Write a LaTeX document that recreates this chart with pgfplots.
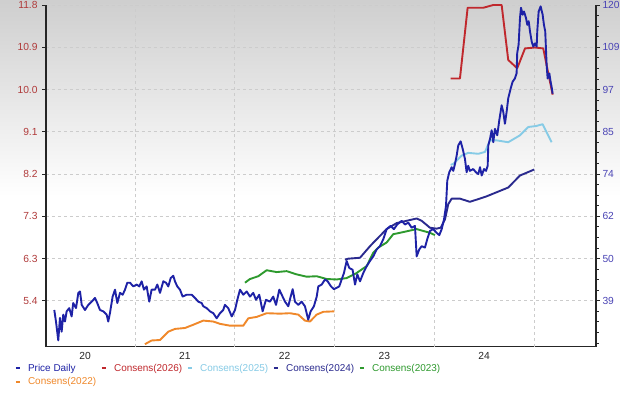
\documentclass[border=0pt]{standalone}
\usepackage{pgfplots}
\pgfplotsset{compat=1.18}
\usepackage{fontspec}
\setmainfont{Liberation Sans}
\definecolor{leftred}{HTML}{B03A3A}
\definecolor{rightblue}{HTML}{4A44B5}
\definecolor{pricec}{HTML}{1E22A6}
\definecolor{c26}{HTML}{C0282D}
\definecolor{c25}{HTML}{86CBE6}
\definecolor{c24}{HTML}{2A2A8E}
\definecolor{c23}{HTML}{2E9A2E}
\definecolor{c22}{HTML}{F0882A}
\definecolor{gridc}{HTML}{CCCCCC}

\pgfplotstableread{
x y
2020.191 5.20
2020.208 4.95
2020.231 4.54
2020.248 5.03
2020.265 4.73
2020.281 5.10
2020.298 4.95
2020.315 5.17
2020.341 5.24
2020.365 5.06
2020.381 5.35
2020.409 5.24
2020.432 5.57
2020.449 5.60
2020.466 5.31
2020.499 5.20
2020.532 5.31
2020.566 5.38
2020.599 5.46
2020.622 5.35
2020.649 5.20
2020.682 5.17
2020.716 5.10
2020.732 4.95
2020.749 5.13
2020.776 5.49
2020.800 5.64
2020.823 5.35
2020.850 5.57
2020.877 5.53
2020.900 5.64
2020.923 5.79
2020.950 5.79
2020.983 5.71
2021.017 5.75
2021.043 5.71
2021.067 5.82
2021.090 5.64
2021.117 5.71
2021.143 5.38
2021.167 5.64
2021.201 5.64
2021.224 5.75
2021.251 5.57
2021.284 5.82
2021.311 5.79
2021.334 5.71
2021.358 5.89
2021.384 5.94
2021.401 5.82
2021.424 5.71
2021.451 5.64
2021.478 5.49
2021.518 5.53
2021.568 5.53
2021.602 5.46
2021.635 5.38
2021.669 5.35
2021.685 5.28
2021.719 5.24
2021.752 5.17
2021.785 5.13
2021.819 5.02
2021.852 5.13
2021.885 5.20
2021.902 5.31
2021.935 5.24
2021.970 5.06
2022.003 5.20
2022.026 5.42
2022.053 5.64
2022.086 5.53
2022.120 5.60
2022.153 5.49
2022.186 5.57
2022.213 5.42
2022.246 5.53
2022.280 5.17
2022.313 5.42
2022.353 5.38
2022.386 5.49
2022.414 5.31
2022.447 5.64
2022.471 5.53
2022.504 5.38
2022.537 5.28
2022.561 5.49
2022.581 5.65
2022.604 5.38
2022.637 5.31
2022.671 5.38
2022.704 5.28
2022.737 4.99
2022.761 5.17
2022.794 5.28
2022.822 5.49
2022.838 5.71
2022.872 5.75
2022.905 5.86
2022.932 5.82
2022.965 5.71
2022.995 5.65
2023.022 5.68
2023.048 5.71
2023.072 5.86
2023.095 6.00
2023.122 6.26
2023.148 6.11
2023.182 6.07
2023.206 5.75
2023.229 5.97
2023.256 5.82
2023.289 6.00
2023.323 6.15
2023.356 6.26
2023.389 6.36
2023.423 6.51
2023.456 6.58
2023.489 6.73
2023.523 6.95
2023.563 7.02
2023.596 6.95
2023.629 7.05
2023.674 7.13
2023.707 7.05
2023.740 7.09
2023.774 6.98
2023.807 7.02
2023.824 6.36
2023.850 6.51
2023.874 6.58
2023.907 6.55
2023.930 6.73
2023.957 6.91
2023.990 6.95
2024.024 6.87
2024.051 6.82
2024.075 6.95
2024.098 7.16
2024.118 7.45
2024.131 8.00
2024.151 8.18
2024.175 8.29
2024.191 8.21
2024.208 8.36
2024.225 8.54
2024.241 8.76
2024.265 8.85
2024.285 8.69
2024.308 8.47
2024.325 8.18
2024.341 8.32
2024.358 8.21
2024.391 8.25
2024.418 8.18
2024.442 8.14
2024.459 8.29
2024.476 8.11
2024.499 8.25
2024.519 8.21
2024.536 8.32
2024.542 8.76
2024.559 8.90
2024.576 9.09
2024.592 8.83
2024.609 9.12
2024.632 8.98
2024.652 9.30
2024.676 9.63
2024.692 9.49
2024.709 9.23
2024.726 9.49
2024.742 9.78
2024.766 9.99
2024.786 10.14
2024.809 10.21
2024.826 10.32
2024.832 10.76
2024.846 10.94
2024.860 11.52
2024.870 11.74
2024.887 11.59
2024.900 11.66
2024.920 11.52
2024.933 11.37
2024.947 11.45
2024.960 11.23
2024.977 11.01
2024.993 10.90
2025.010 10.97
2025.027 10.90
2025.033 11.23
2025.047 11.66
2025.067 11.77
2025.087 11.59
2025.100 11.37
2025.113 11.23
2025.120 10.86
2025.127 10.50
2025.137 10.21
2025.154 10.32
2025.167 10.14
2025.180 9.99
2025.187 9.88
}\pricedata

\pgfplotstableread{
x y
2024.165 10.21
2024.258 10.21
2024.335 11.74
2024.492 11.74
2024.592 11.80
2024.676 11.80
2024.742 10.61
2024.832 10.43
2024.910 10.86
2025.010 10.88
2025.093 10.86
2025.187 9.86
}\consF

\pgfplotstableread{
x y
2024.165 8.34
2024.191 8.36
2024.274 8.54
2024.341 8.60
2024.442 8.58
2024.509 8.62
2024.559 8.87
2024.626 8.87
2024.742 8.83
2024.860 8.98
2024.943 9.16
2025.020 9.18
2025.087 9.22
2025.177 8.83
}\consE

\pgfplotstableread{
x y
2023.105 6.29
2023.138 6.31
2023.256 6.33
2023.356 6.58
2023.423 6.73
2023.523 6.95
2023.623 7.08
2023.724 7.13
2023.824 7.18
2023.874 7.13
2023.957 6.98
2024.024 6.96
2024.065 6.98
2024.108 7.16
2024.141 7.49
2024.175 7.61
2024.258 7.61
2024.358 7.54
2024.526 7.66
2024.742 7.85
2024.860 8.11
2025.003 8.24
}\consD

\pgfplotstableread{
x y
2022.103 5.79
2022.153 5.87
2022.236 5.93
2022.320 6.06
2022.420 6.02
2022.521 6.04
2022.621 5.97
2022.721 5.92
2022.822 5.93
2022.922 5.87
2023.022 5.86
2023.122 5.89
2023.222 6.00
2023.323 6.15
2023.389 6.44
2023.439 6.55
2023.523 6.66
2023.589 6.84
2023.657 6.87
2023.740 6.91
2023.824 6.95
2023.890 6.91
2023.957 6.87
2024.007 6.82
}\consC

\pgfplotstableread{
x y
2021.100 4.46
2021.167 4.54
2021.251 4.55
2021.334 4.73
2021.401 4.79
2021.501 4.81
2021.584 4.88
2021.685 4.97
2021.785 4.95
2021.852 4.90
2021.952 4.86
2022.086 4.86
2022.136 5.02
2022.220 5.05
2022.320 5.13
2022.454 5.12
2022.554 5.13
2022.637 5.10
2022.704 4.97
2022.754 4.95
2022.822 5.10
2022.888 5.16
2022.998 5.17
}\consB

\begin{document}
\begin{tikzpicture}[x=1bp,y=1bp]
\useasboundingbox (0,0) rectangle (620,392);
\shade[top color=black!19, bottom color=white] (0,195) rectangle (620,392);
\fill[white] (0,0) rectangle (620,195);
\pgfplotsset{
  common/.style={
    scale only axis, width=550bp, height=341.7bp,
    at={(46bp,45.3bp)}, anchor=south west,
    xmin=2020.108, xmax=2025.622, ymin=4.405, ymax=11.8,
    ytick={5.4,6.3143,7.2286,8.1429,9.0571,9.9714,10.8857,11.8},
    tick align=outside, major tick length=4bp, minor tick length=3bp,
    axis line style={-, black!85, line width=1.4pt},
    tick style={black!85, line width=0.8pt},
  }
}
\begin{axis}[common,
  axis x line*=bottom, axis y line*=left,
  yticklabels={5.4,6.3,7.3,8.2,9.1,10.0,10.9,11.8},
  y tick label style={font=\fontsize{10.3}{12}\selectfont, color=leftred, xshift=-1bp},
  xtick={2020.5,2021.5,2022.5,2023.5,2024.5},
  xticklabels={20,21,22,23,24},
  x tick label style={font=\fontsize{10.3}{12}\selectfont, color=black!85, yshift=1.5bp},
  major x tick style={draw=none},
  extra x ticks={2021,2022,2023,2024,2025},
  extra x tick labels={},
  extra x tick style={grid=major, major tick length=0pt},
  ymajorgrids,
  grid style={dashed, gridc, line width=0.5pt},
  clip=false,
  legend columns=5,
  legend style={draw=none, fill=none, inner sep=0pt, outer sep=0pt,
    at={(-0.0570,-0.050)}, anchor=north west,
    font=\fontsize{10}{12}\selectfont,
    nodes={inner sep=0pt},
    row sep=5bp,
    /tikz/every odd column/.append style={column sep=6.5bp},
    /tikz/every even column/.append style={column sep=4.5bp}},
  legend cell align=left,
  legend image code/.code={\draw[line width=2.4bp] (0bp,0bp) -- (4.5bp,0bp);},
]
\addlegendimage{pricec}
\addlegendentry{\textcolor{pricec}{Price Daily}}
\addlegendimage{c26}
\addlegendentry{\textcolor{c26}{Consens(2026)}}
\addlegendimage{c25}
\addlegendentry{\textcolor{c25}{Consens(2025)}}
\addlegendimage{c24}
\addlegendentry{\textcolor{c24}{Consens(2024)}}
\addlegendimage{c23}
\addlegendentry{\textcolor{c23}{Consens(2023)}}
\addlegendimage{c22}
\addlegendentry{\textcolor{c22}{Consens(2022)}}

\addplot[forget plot, c22, line width=1.9pt, line join=round] table {\consB};
\addplot[forget plot, c23, line width=1.9pt, line join=round] table {\consC};
\addplot[forget plot, c24, line width=1.9pt, line join=round] table {\consD};
\addplot[forget plot, c25, line width=1.9pt, line join=round] table {\consE};
\addplot[forget plot, c26, line width=1.9pt, line join=round] table {\consF};
\addplot[forget plot, pricec, line width=1.9pt, line join=round] table {\pricedata};
\end{axis}
\begin{axis}[common,
  axis x line=none, axis y line*=right,
  yticklabels={39,50,62,74,85,97,109,120},
  y tick label style={font=\fontsize{10.3}{12}\selectfont, color=rightblue, xshift=-1bp},
  minor ytick={4.4857,4.7143,4.9429,5.1714,5.6286,5.8571,6.0857,6.5429,6.7714,7.0,7.4571,7.6857,7.9143,8.3714,8.6,8.8286,9.2857,9.5143,9.7429,10.2,10.4286,10.6571,11.1143,11.3429,11.5714},
]
\end{axis}
\end{tikzpicture}
\end{document}
